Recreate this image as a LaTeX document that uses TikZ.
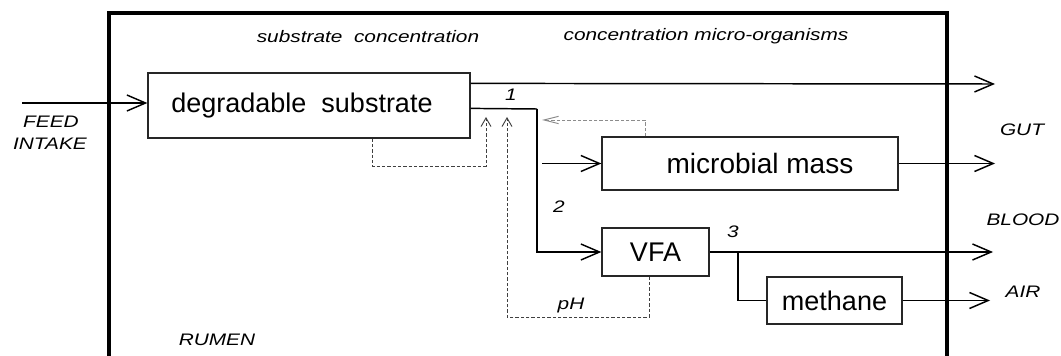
\documentclass[tikz,border=0pt]{standalone}
\usepackage{fontspec}
\setmainfont{Liberation Sans}
\usetikzlibrary{arrows.meta,calc}
\tikzset{
  box/.style={draw=black!85, line width=0.9pt, inner sep=0pt, font=\fontsize{20.25}{24}\selectfont},
  flow/.style={line width=1.1pt, -{Straight Barb[length=14pt,width=12pt]}},
  plain/.style={line width=1.1pt},
  fb/.style={line width=0.7pt, black!75, dash pattern=on 2.5pt off 1.5pt, -{Straight Barb[length=6.5pt,width=7.5pt]}},
  fbg/.style={line width=0.7pt, black!45, dash pattern=on 2.5pt off 1.5pt, -{Straight Barb[length=11pt,width=5.5pt]}},
  lab/.style={font=\fontsize{12.5}{15}\selectfont\itshape, inner sep=0pt},
  wall/.style={line width=3.2pt, line join=miter},
}
\newcommand{\wide}[1]{\scalebox{1.25}[1]{#1}}
\begin{document}
\begin{tikzpicture}[x=0.75pt,y=-0.75pt]
\useasboundingbox[fill=white] (0,0) rectangle (1061,356);
% rumen wall
\draw[wall] (109,380) -- (109,13) -- (947,13) -- (947,380);
% boxes
\node[box, minimum width=241.5pt, minimum height=48.75pt] (sub) at (309,105.5) {degradable\ \ substrate\hspace*{10.5pt}};
\node[box, minimum width=222pt, minimum height=39.75pt, font=\fontsize{21}{25}\selectfont] (mic) at (750,163.5) {\hspace*{15pt}microbial mass};
\node[box, minimum width=80.25pt, minimum height=36pt] (vfa) at (655.5,252) {VFA};
\node[box, minimum width=101.25pt, minimum height=35.25pt] (met) at (834.5,300.5) {methane};
% coordinates
\coordinate (feedin) at (22,103);
\coordinate (gutA) at (995,84);
\coordinate (gutB) at (995,162);
\coordinate (bloodend) at (993,248);
\coordinate (airend) at (990,300);
\coordinate (j1) at (537,109);
\coordinate (j3) at (738,252);
\coordinate (d1) at (372,166);
\coordinate (t1) at (486,117);
\coordinate (d2) at (649,317);
\coordinate (t2) at (507,117);
\coordinate (g1) at (645,120);
\coordinate (t3) at (542,120);
% flows
\draw[flow] (feedin) -- (feedin -| sub.west);
\draw[flow] ($(sub.north east)+(0,11)$) -- (gutA);
\draw[plain] ($(sub.north east)+(0,36)$) -- (j1);
\draw[flow] (j1) |- (vfa.west);
\draw[flow] ($(j1 |- mic.west)+(5,0)$) -- (mic.west);
\draw[flow] (mic.east) -- (mic.east -| gutB);
\draw[flow] (vfa.east) -- (vfa.east -| bloodend);
\draw[plain] (j3) |- (met.west);
\draw[flow] (met.east) -- (met.east -| airend);
% feedback
\draw[fb] (d1 |- sub.south) -- (d1) -| (t1);
\draw[fb] (d2 |- vfa.south) -- (d2) -| (t2);
\draw[fbg] (g1 |- mic.north) -- (g1) -- (t3);
% labels
\node[lab] (l1) at (511,95) {\wide{1}};
\node[lab] (l2) at (559,207) {\wide{2}};
\node[lab] (l3) at (733,232) {\wide{3}};
\node[lab] (ph) at (571,305) {\wide{pH}};
\node[lab] (feed) at (51,122) {\wide{FEED}};
\node[lab] (intake) at (50,144) {\wide{INTAKE}};
\node[lab] (gut) at (1022,130) {\wide{GUT}};
\node[lab] (blood) at (1023,220) {\wide{BLOOD}};
\node[lab] (air) at (1023,292) {\wide{AIR}};
\node[lab] (rumen) at (217,340) {\wide{RUMEN}};
\node[lab] (sc) at (368,37) {\wide{substrate\ \ concentration}};
\node[lab] (cm) at (706,36) {\wide{concentration micro-organisms}};
\end{tikzpicture}
\end{document}
